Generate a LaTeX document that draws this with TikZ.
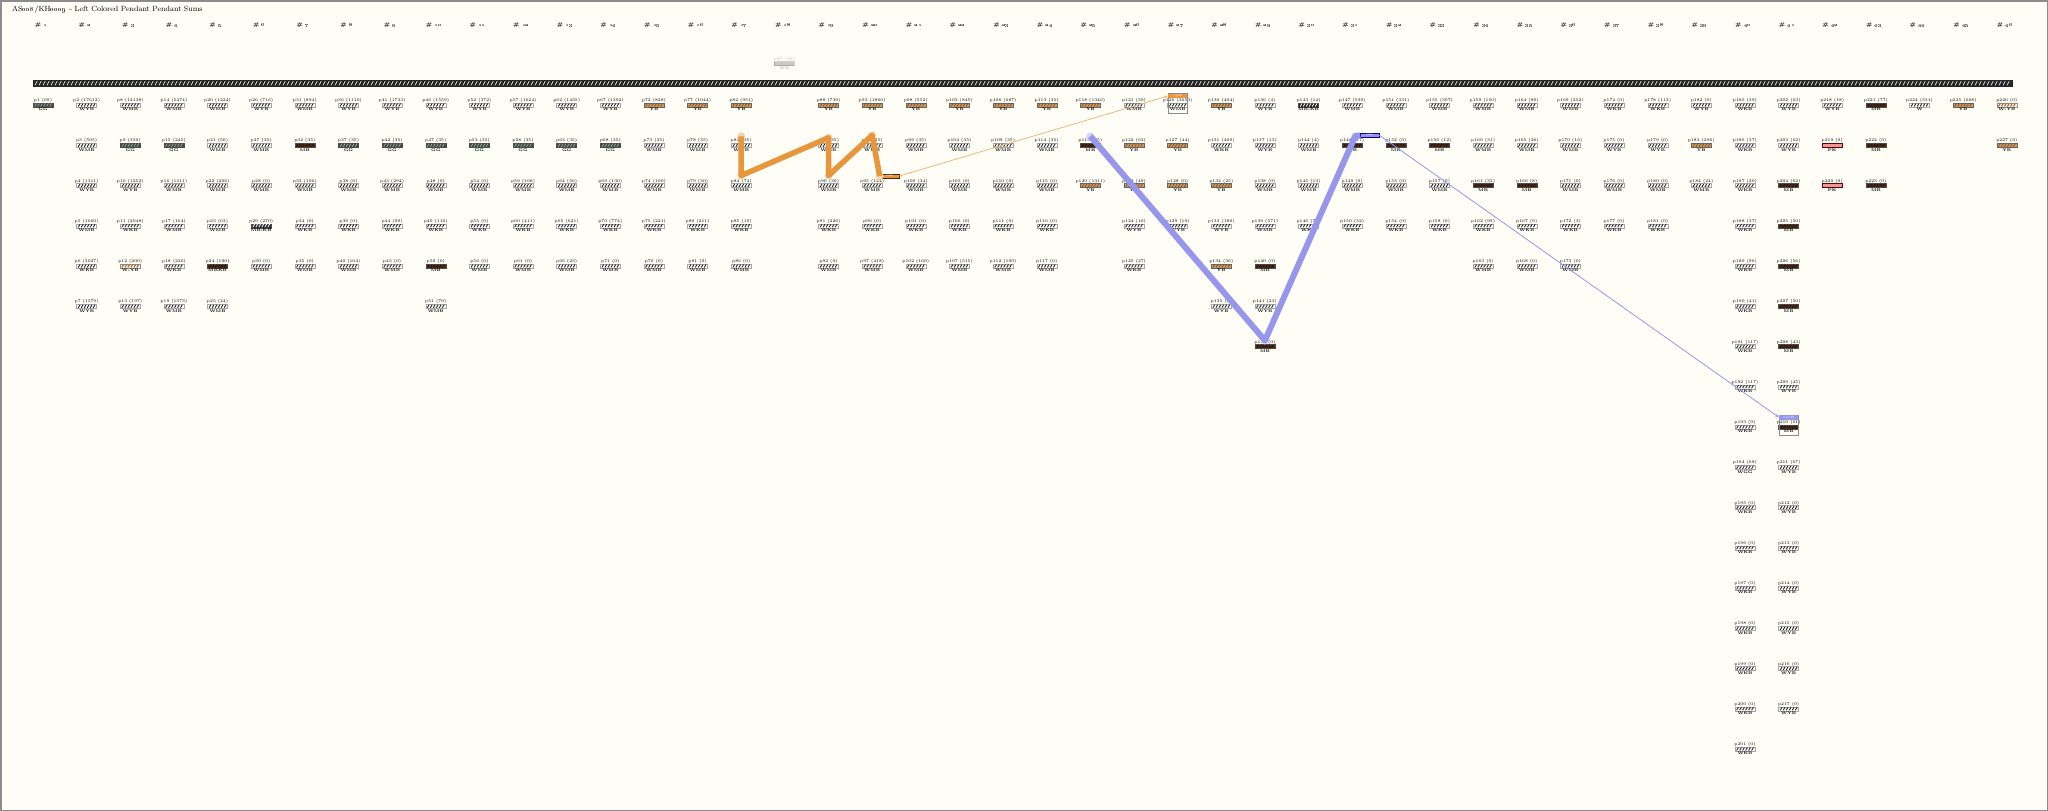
\documentclass[tikz,border=0pt]{standalone}
\usetikzlibrary{calc,arrows.meta}
\definecolor{paper}{RGB}{254,254,246}
\definecolor{cordslate}{RGB}{62,74,66}
\definecolor{cordtan}{RGB}{214,150,78}
\definecolor{cordbrown}{RGB}{74,38,20}
\definecolor{cordpink}{RGB}{240,150,150}
\definecolor{sumorange}{RGB}{232,150,60}
\definecolor{sumblue}{RGB}{150,150,236}
\tikzset{
  plbl/.style={font=\fontsize{4.2}{4.2}\selectfont, inner sep=0pt},
  clbl/.style={font=\fontsize{4}{4}\selectfont\bfseries, inner sep=0pt},
  hdr/.style={font=\fontsize{5.5}{5.5}\selectfont\bfseries, inner sep=0pt},
  bar w/.style={fill=white, draw=black!35, line width=0.4},
  mk w/.style={black!85, line width=0.9},
  bar yb/.style={fill=cordtan, draw=black!60, line width=0.4},
  mk yb/.style={cordbrown!80, line width=0.7},
  bar gg/.style={fill=cordslate, draw=black!70, line width=0.4},
  mk gg/.style={white!60!cordslate, line width=0.6},
  bar mb/.style={fill=cordbrown, draw=black!70, line width=0.4},
  mk mb/.style={black!60!cordbrown, line width=0.6},
  bar pk/.style={fill=cordpink, draw=red!40!black, line width=0.4},
  mk pk/.style={draw=none},
  bar mk/.style={fill=black!85, draw=black!70, line width=0.4},
  mk mk/.style={white, line width=0.8},
  bar wy/.style={fill=white, draw=black!45, line width=0.4},
  mk wy/.style={cordtan!80!black, line width=1.3},
  sumbox/.style={minimum width=19, minimum height=4.5, inner sep=0pt,
    font=\fontsize{3}{3}\selectfont, text=white},
  sumframe/.style={draw=black!45, line width=0.6},
}
\begin{document}
\begin{tikzpicture}[x=1pt, y=-1pt]
  \fill[paper] (0,0) rectangle (2048,811);
  \draw[black!45, line width=1.5] (0.75,0.75) rectangle (2047.25,810.25);
  \node[anchor=west, inner sep=0pt, font=\fontsize{7.5}{7.5}\selectfont] (title) at (12,10)
    {AS\oldstylenums{008}/KH\oldstylenums{0009} - Left Colored Pendant Pendant Sums};
  \foreach \k in {1,...,46}
    \node[hdr] (h\k) at ({41+(\k-1)*43.64},25) {\# \oldstylenums{\k}};
  % main cord
  \fill[black!85] (33,80) rectangle (2013,86.5);
  \foreach \i in {0,...,493}
    \draw[white!90!black, line width=0.7] ({35+\i*4},85.3) -- ({37.2+\i*4},81.2);
  % top cord
  \begin{scope}[opacity=0.25]
    \coordinate (p87) at (784.2,63.5);
    \node[plbl] (t87) at (784.2,59.3) {p87 (30)};
    \filldraw[bar mb] (774.2,61.5) rectangle (794.2,65.5);
    \node[clbl] (k87) at (784.2,68.3) {WB};
  \end{scope}
  % pendants
  \foreach \c/\r/\n/\v/\k/\s in {
    1/1/1/69/GG/gg,
    2/1/2/17612/WYB/w, 2/2/3/595/WMB/w, 2/3/4/1311/WYB/w, 2/4/5/1660/WMB/w, 2/5/6/3027/WKB/w, 2/6/7/1579/WYB/w,
    3/1/8/12138/WMB/w, 3/2/9/350/GG/gg, 3/3/10/1252/WYB/w, 3/4/11/2048/WKB/w, 3/5/12/200/W-YB/wy, 3/6/13/197/WYB/w,
    4/1/14/5474/WMB/w, 4/2/15/245/GG/gg, 4/3/16/1311/WMB/w, 4/4/17/164/WMB/w, 4/5/18/226/WKB/w, 4/6/19/1373/WMB/w,
    5/1/20/1224/WMB/w, 5/2/21/50/WMB/w, 5/3/22/206/WMB/w, 5/4/23/63/WMB/w, 5/5/24/100/MBKB/mb, 5/6/25/24/WMB/w,
    6/1/26/716/WYB/w, 6/2/27/35/WMB/w, 6/3/28/0/WMB/w, 6/4/29/270/MB-KB/mk, 6/5/30/0/WMB/w,
    7/1/31/894/WMB/w, 7/2/32/35/MB/mb, 7/3/33/106/WMB/w, 7/4/34/0/WKB/w, 7/5/35/0/WMB/w,
    8/1/36/1110/WYB/w, 8/2/37/35/GG/gg, 8/3/38/0/WMB/w, 8/4/39/0/WKB/w, 8/5/40/104/WMB/w,
    9/1/41/1733/WYB/w, 9/2/42/35/GG/gg, 9/3/43/294/WMB/w, 9/4/44/90/WKB/w, 9/5/45/0/WMB/w,
    10/1/46/1559/WYB/w, 10/2/47/35/GG/gg, 10/3/48/0/WMB/w, 10/4/49/110/WKB/w, 10/5/50/0/MB/mb, 10/6/51/70/WMB/w,
    11/1/52/372/WYB/w, 11/2/53/35/GG/gg, 11/3/54/0/WMB/w, 11/4/55/0/WKB/w, 11/5/56/0/WMB/w,
    12/1/57/1624/WYB/w, 12/2/58/35/GG/gg, 12/3/59/168/WMB/w, 12/4/60/411/WKB/w, 12/5/61/0/WMB/w,
    13/1/62/1435/WYB/w, 13/2/63/35/GG/gg, 13/3/64/56/WMB/w, 13/4/65/621/WKB/w, 13/5/66/23/WMB/w,
    14/1/67/1392/WYB/w, 14/2/68/35/GG/gg, 14/3/69/130/WMB/w, 14/4/70/774/WKB/w, 14/5/71/0/WMB/w,
    15/1/72/828/YB/yb, 15/2/73/35/WMB/w, 15/3/74/100/WMB/w, 15/4/75/221/WKB/w, 15/5/76/0/WMB/w,
    16/1/77/1044/YB/yb, 16/2/78/35/WMB/w, 16/3/79/30/WMB/w, 16/4/80/211/WKB/w, 16/5/81/0/WMB/w,
    17/1/82/951/YB/yb, 17/2/83/35/WMB/w, 17/3/84/74/WMB/w, 17/4/85/19/WKB/w, 17/5/86/0/WMB/w,
    19/1/88/739/YB/yb, 19/2/89/35/WMB/w, 19/3/90/30/WMB/w, 19/4/91/226/WKB/w, 19/5/92/0/WMB/w,
    20/1/93/1860/YB/yb, 20/2/94/35/WMB/w, 20/3/95/124/WMB/w, 20/4/96/0/WKB/w, 20/5/97/418/WMB/w,
    21/1/98/552/YB/yb, 21/2/99/35/WMB/w, 21/3/100/34/WMB/w, 21/4/101/0/WKB/w, 21/5/102/160/WMB/w,
    22/1/103/845/YB/yb, 22/2/104/35/WMB/w, 22/3/105/0/WMB/w, 22/4/106/0/WKB/w, 22/5/107/515/WMB/w,
    23/1/108/687/YB/yb, 23/2/109/35/WMB/w, 23/3/110/0/WMB/w, 23/4/111/0/WKB/w, 23/5/112/100/WMB/w,
    24/1/113/35/YB/yb, 24/2/114/35/WMB/w, 24/3/115/0/WMB/w, 24/4/116/0/WKB/w, 24/5/117/0/WMB/w,
    25/1/118/1346/YB/yb, 25/2/119/35/MB/mb, 25/3/120/1311/YB/yb,
    26/1/121/50/WMB/w, 26/2/122/63/YB/yb, 26/3/123/49/YB/yb, 26/4/124/10/WYB/w, 26/5/125/27/WKB/w,
    27/1/126/3650/WMB/w, 27/2/127/44/YB/yb, 27/3/128/0/YB/yb, 27/4/129/10/WYB/w,
    28/1/130/404/YB/yb, 28/2/131/400/WKB/w, 28/3/132/25/YB/yb, 28/4/133/180/WYB/w, 28/5/134/36/YB/yb, 28/6/135/0/WYB/w,
    29/1/136/4/WYB/w, 29/2/137/13/WYB/w, 29/3/138/0/WMB/w, 29/4/139/571/WMB/w, 29/5/140/0/MB/mb, 29/6/141/23/WYB/w, 29/7/142/0/MB/mb,
    30/1/143/14/MB-KB/mk, 30/2/144/4/WMB/w, 30/3/145/13/WMB/w, 30/4/146/72/WKB/w,
    31/1/147/530/WMB/w, 31/2/148/17/MB/mb, 31/3/149/0/WMB/w, 31/4/150/32/WKB/w,
    32/1/151/331/WMB/w, 32/2/152/0/MB/mb, 32/3/153/0/WMB/w, 32/4/154/0/WKB/w,
    33/1/155/307/WMB/w, 33/2/156/12/MB/mb, 33/3/157/0/WMB/w, 33/4/158/0/WKB/w,
    34/1/159/150/WMB/w, 34/2/160/31/WMB/w, 34/3/161/33/MB/mb, 34/4/162/99/WKB/w, 34/5/163/0/WMB/w,
    35/1/164/80/WMB/w, 35/2/165/26/WMB/w, 35/3/166/8/MB/mb, 35/4/167/9/WKB/w, 35/5/168/0/WMB/w,
    36/1/169/252/WMB/w, 36/2/170/16/WMB/w, 36/3/171/0/WMB/w, 36/4/172/3/WKB/w, 36/5/173/0/WMB/w,
    37/1/174/0/WKB/w, 37/2/175/0/WYB/w, 37/3/176/0/WMB/w, 37/4/177/0/WKB/w,
    38/1/178/113/WKB/w, 38/2/179/0/WYB/w, 38/3/180/0/WMB/w, 38/4/181/0/WKB/w,
    39/1/182/6/WYB/w, 39/2/183/296/YB/yb, 39/3/184/24/WMB/w,
    40/1/185/39/WKB/w, 40/2/186/37/WKB/w, 40/3/187/20/WKB/w, 40/4/188/37/WKB/w, 40/5/189/96/WKB/w,
    40/6/190/41/WKB/w, 40/7/191/117/WKB/w, 40/8/192/117/WKB/w, 40/9/193/9/WKB/w, 40/10/194/68/WGG/w,
    40/11/195/0/WKB/w, 40/12/196/0/WKB/w, 40/13/197/0/WKB/w, 40/14/198/0/WKB/w, 40/15/199/0/WKB/w,
    40/16/200/0/WKB/w, 40/17/201/0/WKB/w,
    41/1/202/63/WYB/w, 41/2/203/62/WYB/w, 41/3/204/62/MB/mb, 41/4/205/50/MB/mb, 41/5/206/56/MB/mb,
    41/6/207/50/MB/mb, 41/7/208/43/MB/mb, 41/8/209/45/WYB/w, 41/9/210/61/MB/mb, 41/10/211/67/WYB/w,
    41/11/212/0/WYB/w, 41/12/213/0/WYB/w, 41/13/214/0/WYB/w, 41/14/215/0/WYB/w, 41/15/216/0/WYB/w,
    41/16/217/0/WYB/w,
    42/1/218/18/WYB/w, 42/2/219/0/PK/pk, 42/3/220/0/PK/pk,
    43/1/221/77/MB/mb, 43/2/222/0/MB/mb, 43/3/223/0/MB/mb,
    44/1/224/331/W/w,
    45/1/225/668/YB/yb,
    46/1/226/0/W-YB/wy, 46/2/227/6/YB/yb}{
    \coordinate (p\n) at ({43+(\c-1)*43.64},{105+(\r-1)*40.25});
    \node[plbl] (t\n) at ($(p\n)+(0,-4.4)$) {p\n\ (\v)};
    \filldraw[bar \s] ($(p\n)+(-10,-2)$) rectangle ($(p\n)+(10,2)$);
    \foreach \i in {-7.5,-4.5,...,7.5}
      \draw[mk \s] ($(p\n)+(\i-0.9,1.5)$) -- ($(p\n)+(\i+0.9,-1.5)$);
    \node[clbl] (k\n) at ($(p\n)+(0,4.6)$) {\k};
  }
  % sum boxes and frames
  \draw[sumframe] ($(p126)+(-9.5,-11.3)$) rectangle ($(p126)+(9.5,8.5)$);
  \draw[sumframe] ($(p210)+(-9.5,-12)$) rectangle ($(p210)+(9.5,8)$);
  \node[sumbox, fill=sumorange] (osum2) at ($(p126)+(0,-9)$) {=p95};
  \node[sumbox, fill=sumblue] (bsum2) at ($(p210)+(0,-9.7)$) {=p148};
  \node[sumbox, fill=sumorange, draw=cordbrown, line width=0.4] (osum1) at ($(p95)+(17.5,-9.5)$) {sum};
  \node[sumbox, fill=sumblue, draw=blue!50!black, line width=0.4] (bsum1) at ($(p148)+(17.5,-10)$) {sum};
  % orange chain
  \coordinate (o1) at ($(p83)+(0,-9)$);
  \coordinate (o2) at ($(p84)+(0,-10)$);
  \coordinate (o3) at ($(p89)+(0,-7.5)$);
  \coordinate (o4) at ($(p90)+(0,-10)$);
  \coordinate (o5) at ($(p94)+(0,-10)$);
  \coordinate (o6) at ($(p95)+(7.5,-9.5)$);
  \foreach \v in {o1,o2,o3,o4,o5,o6}
    \fill[sumorange!40] (\v) circle[radius=4];
  \draw[sumorange, line width=5.5, line join=round] (o1) -- (o2) -- (o3) -- (o4) -- (o5) -- (o6);
  \draw[sumorange!70, line width=0.8, -{Stealth[length=4,width=3]}] (osum1.east) -- (osum2.west);
  % blue chain
  \coordinate (b1) at ($(p119)+(0,-9)$);
  \coordinate (b2) at ($(p142)+(0,-6)$);
  \coordinate (b3) at ($(p148)+(3,-9)$);
  \coordinate (b4) at ($(p148)+(8,-10)$);
  \foreach \v in {b1,b2,b3}
    \fill[sumblue!40] (\v) circle[radius=4];
  \draw[sumblue, line width=6, line join=round] (b1) -- (b2) -- (b3) -- (b4);
  \draw[sumblue, line width=0.8, -{Stealth[length=4,width=3]}] (bsum1.east) -- (bsum2.west);
\end{tikzpicture}
\end{document}
